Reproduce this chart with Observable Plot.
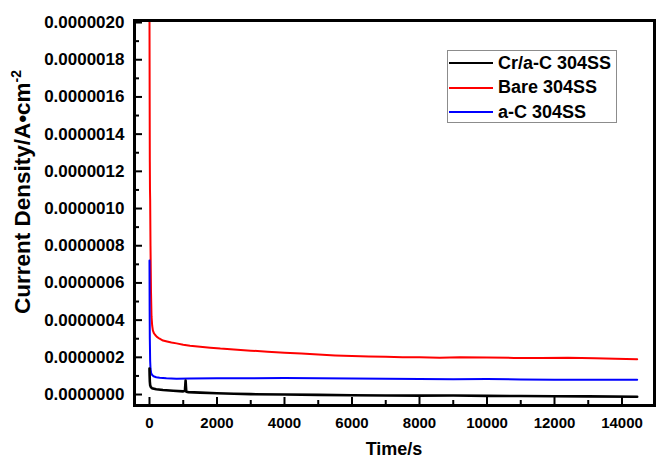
<!DOCTYPE html>
<html>
<head>
<meta charset="utf-8">
<script src="https://cdn.jsdelivr.net/npm/d3@7"></script>
<script src="https://cdn.jsdelivr.net/npm/@observablehq/plot@0.6"></script>
<style>
  html, body { margin: 0; padding: 0; background: #fff; }
  #wrap { position: relative; width: 658px; height: 459px; font-family: "Liberation Sans", Arial, sans-serif; }
  #legend { position: absolute; left: 447px; top: 50px; width: 170px; height: 73px; border: 1px solid #8c8c8c; background: #fff; box-sizing: border-box; }
  #legend .item { position: absolute; left: 0; height: 20px; display: flex; align-items: center; }
  #legend .swatch { width: 44px; height: 0; border-top: 2px solid; margin-left: 1px; }
  #legend .lab { margin-left: 5px; font-weight: bold; font-size: 18px; color: #000; white-space: nowrap; }
</style>
</head>
<body>
<div id="wrap"><div id="legend"></div></div>
<script>
// ---- data (current density in units of 1e-6 A/cm^2, time in s) ----
const seriesNames  = ["Cr/a-C 304SS", "Bare 304SS", "a-C 304SS"];
const seriesColors = ["#000000", "#ff0000", "#0000ff"];

const bareTime = [0, 5, 10, 15, 20, 30, 45, 60, 80, 100, 130, 170, 220, 300, 400, 520, 650, 800, 1000, 1200, 1500, 1800, 2100, 2500, 3000, 3500, 4000, 4500, 5000, 5500, 6000, 6500, 7000, 7500, 8000, 8600, 9200, 10000, 10800, 11600, 12400, 13200, 13800, 14450];
const bareCurrent = [2.05, 1.6, 1.25, 1.1, 1.05, 0.8, 0.55, 0.42, 0.37, 0.345, 0.33, 0.32, 0.31, 0.30, 0.29, 0.285, 0.28, 0.275, 0.268, 0.262, 0.257, 0.252, 0.247, 0.242, 0.236, 0.23, 0.224, 0.22, 0.215, 0.21, 0.207, 0.205, 0.203, 0.201, 0.200, 0.198, 0.200, 0.199, 0.197, 0.196, 0.198, 0.195, 0.193, 0.190];

const aCTime = [0, 5, 10, 20, 30, 50, 80, 120, 200, 300, 500, 800, 1200, 2000, 3000, 4000, 5000, 6000, 7000, 8000, 9000, 10000, 11000, 12000, 13000, 14450];
const aCCurrent = [0.72, 0.45, 0.30, 0.18, 0.14, 0.115, 0.105, 0.098, 0.093, 0.090, 0.087, 0.085, 0.086, 0.087, 0.088, 0.089, 0.088, 0.086, 0.085, 0.083, 0.082, 0.083, 0.081, 0.080, 0.080, 0.079];

const crTime = [0, 5, 10, 20, 40, 70, 100, 200, 400, 700, 1000, 1050, 1070, 1090, 1150, 1500, 2000, 2500, 3000, 4000, 5000, 6000, 7000, 8000, 9000, 10000, 11000, 12000, 13000, 14450];
const crCurrent = [0.14, 0.10, 0.07, 0.05, 0.04, 0.035, 0.032, 0.028, 0.024, 0.020, 0.017, 0.020, 0.075, 0.015, 0.013, 0.010, 0.007, 0.004, 0.002, 0.000, -0.002, -0.004, -0.005, -0.006, -0.005, -0.007, -0.008, -0.009, -0.010, -0.012];

const xMajorTicks = [0, 2000, 4000, 6000, 8000, 10000, 12000, 14000];
const xMinorTicks = [1000, 3000, 5000, 7000, 9000, 11000, 13000];
const yMajorTicks = [0, 0.2, 0.4, 0.6, 0.8, 1.0, 1.2, 1.4, 1.6, 1.8, 2.0].map(v => v * 1e-6);
const yMinorTicks = [0.1, 0.3, 0.5, 0.7, 0.9, 1.1, 1.3, 1.5, 1.7, 1.9].map(v => v * 1e-6);
const xTitle = "Time/s";
const yTitle = "Current Density/A\u2022cm";
const yTitleSup = "-2";

// ---- build tables ----
const toRows = (ts, vs, name) => ts.map((t, i) => ({t, v: vs[i] * 1e-6, name}));
const crRows = toRows(crTime, crCurrent, seriesNames[0]);
const bareRows = toRows(bareTime, bareCurrent, seriesNames[1]);
const aCRows = toRows(aCTime, aCCurrent, seriesNames[2]);

const fmtY = d3.format(".7f");

const W = 658, H = 459, ML = 134, MR = 4, MT = 20, MB = 54;
const frameW = W - ML - MR, frameH = H - MT - MB;
const majorLen = 8, minorLen = 5;

const chart = Plot.plot({
  width: W,
  height: H,
  marginLeft: ML,
  marginRight: MR,
  marginTop: MT,
  marginBottom: MB,
  style: {fontFamily: "'Liberation Sans', Arial, sans-serif", background: "#fff", color: "#000", overflow: "visible"},
  x: {domain: [-444, 14963]},
  y: {domain: [-0.059e-6, 2.011e-6]},
  marks: [
    Plot.line(bareRows, {x: "t", y: "v", stroke: seriesColors[1], strokeWidth: 2, clip: true}),
    Plot.line(aCRows, {x: "t", y: "v", stroke: seriesColors[2], strokeWidth: 2, clip: true}),
    Plot.line(crRows, {x: "t", y: "v", stroke: seriesColors[0], strokeWidth: 2.6, clip: true}),
    // inward ticks (short ticks anchored on the bottom / left frame edges)
    Plot.tickX(xMajorTicks, {x: d => d, insetTop: frameH - majorLen, stroke: "#000", strokeWidth: 2}),
    Plot.tickX(xMinorTicks, {x: d => d, insetTop: frameH - minorLen, stroke: "#000", strokeWidth: 2}),
    Plot.tickY(yMajorTicks, {y: d => d, insetRight: frameW - majorLen, stroke: "#000", strokeWidth: 2}),
    Plot.tickY(yMinorTicks, {y: d => d, insetRight: frameW - minorLen, stroke: "#000", strokeWidth: 2}),
    // tick labels
    Plot.axisX(xMajorTicks, {tickSize: 0, tickPadding: 12, tickFormat: d => String(d), fontSize: 15, fontWeight: "bold", fill: "#000", label: null}),
    Plot.axisY(yMajorTicks, {tickSize: 0, tickPadding: 10, tickFormat: fmtY, fontSize: 17, fontWeight: "bold", fill: "#000", label: null}),
    Plot.frame({stroke: "#000", strokeWidth: 3})
  ]
});

document.getElementById("wrap").prepend(chart);

// axis titles
const svg = d3.select(chart);
svg.append("text")
  .attr("x", 394)
  .attr("y", 455)
  .attr("text-anchor", "middle")
  .attr("font-size", 18).attr("font-weight", "bold").attr("fill", "#000")
  .text(xTitle);
const yt = svg.append("text")
  .attr("transform", "translate(30,192) rotate(-90)")
  .attr("text-anchor", "middle")
  .attr("font-size", 22.5).attr("font-weight", "bold").attr("fill", "#000");
yt.append("tspan").text(yTitle);
yt.append("tspan").attr("dy", -9).attr("font-size", 14).text(yTitleSup);

// legend
const legend = document.getElementById("legend");
seriesNames.forEach((name, i) => {
  const item = document.createElement("div");
  item.className = "item";
  item.style.top = (2 + i * 24.5) + "px";
  const sw = document.createElement("div");
  sw.className = "swatch";
  sw.style.borderTopColor = seriesColors[i];
  const lab = document.createElement("span");
  lab.className = "lab";
  lab.textContent = name;
  item.append(sw, lab);
  legend.append(item);
});
</script>
</body>
</html>
